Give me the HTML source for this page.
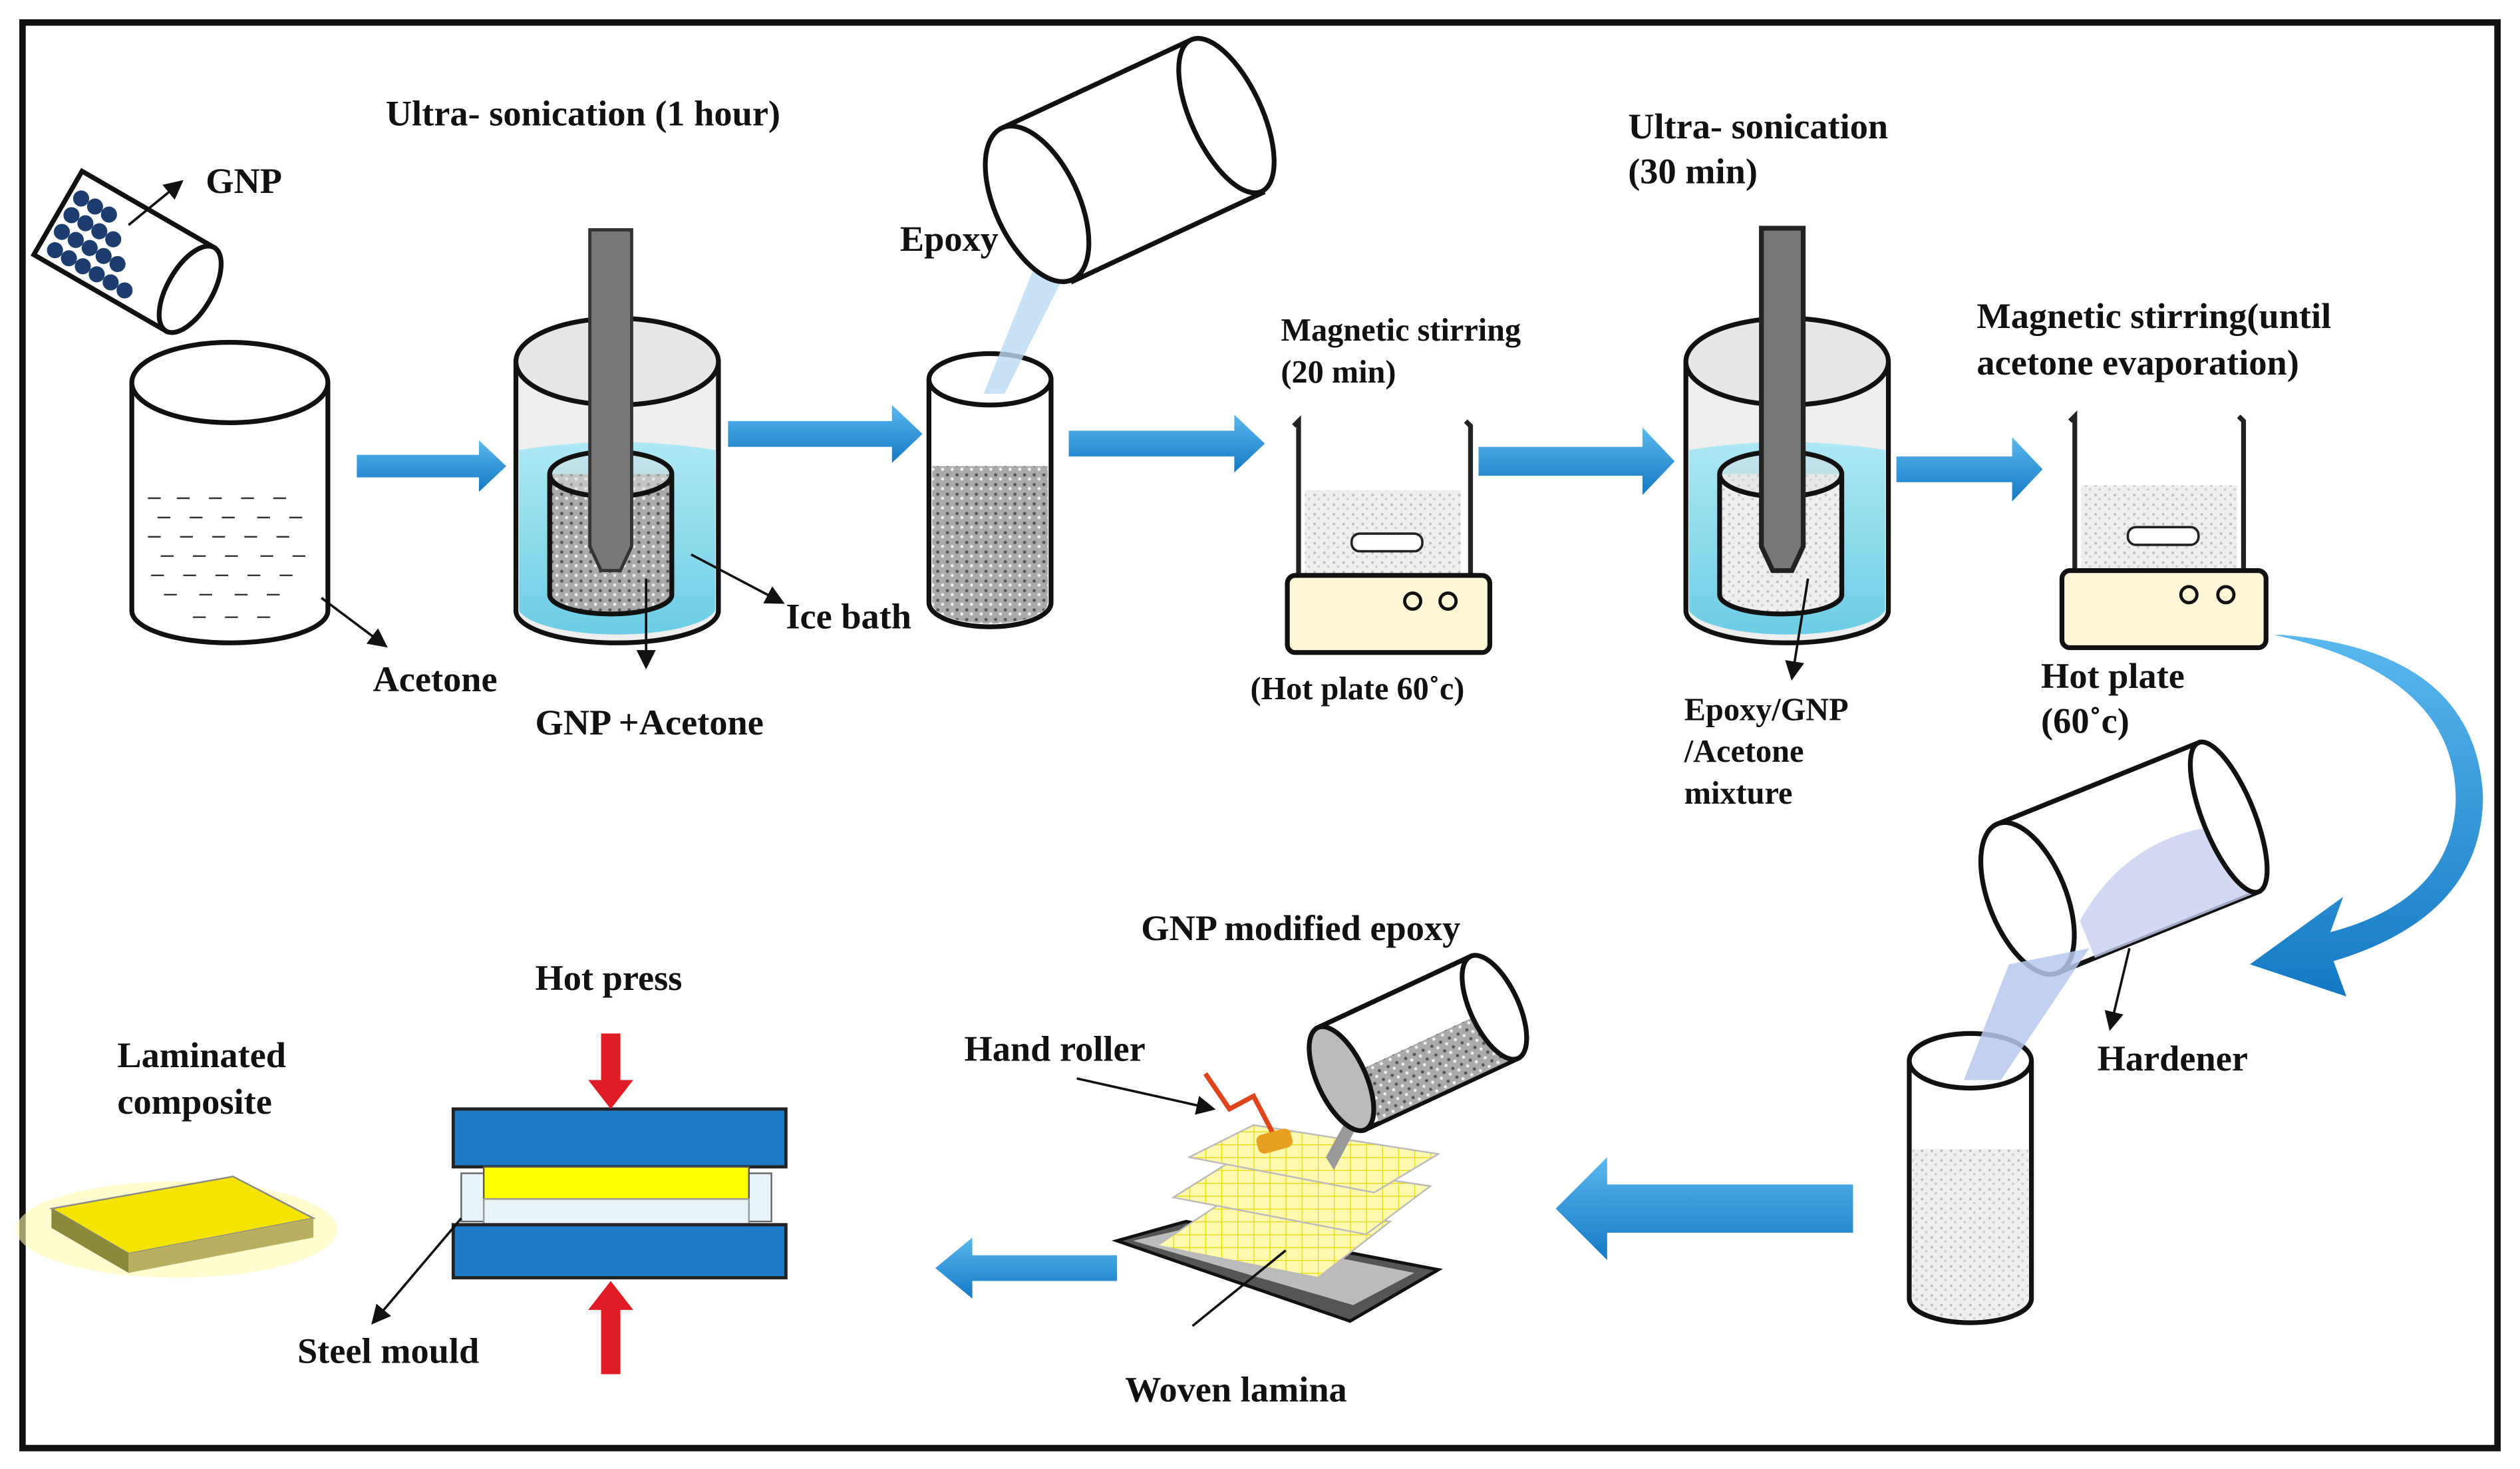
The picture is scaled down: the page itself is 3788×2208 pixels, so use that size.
<!DOCTYPE html>
<html><head><meta charset="utf-8"><style>
html,body{margin:0;padding:0;background:#fff;}
svg{display:block;}
text{font-family:"Liberation Serif",serif;font-weight:bold;fill:#111;font-size:22.5px;}
</style></head><body>
<svg width="3788" height="2208" viewBox="0 0 1568 914" xmlns="http://www.w3.org/2000/svg">
<defs>
<pattern id="sp" width="6" height="6" patternUnits="userSpaceOnUse"><rect width="6" height="6" fill="#aaa"/><circle cx="1.5" cy="1.5" r="1" fill="#555"/><circle cx="4.5" cy="4" r="1" fill="#eee"/></pattern>
<pattern id="wsp" width="6" height="6" patternUnits="userSpaceOnUse"><rect width="6" height="6" fill="#eee"/><circle cx="2" cy="2" r="0.8" fill="#bbb"/><circle cx="4.5" cy="4.5" r="0.8" fill="#ccc"/></pattern>
<pattern id="grid" width="10" height="8" patternUnits="userSpaceOnUse"><rect width="10" height="8" fill="#fff9b0"/><path d="M0 0H10M0 0V8" stroke="#e8d800" stroke-width="1"/></pattern>
<marker id="ah" markerWidth="8" markerHeight="8" refX="7" refY="4" orient="auto"><path d="M0 0L8 4L0 8z" fill="#111"/></marker>
<linearGradient id="bl" x1="0" y1="0" x2="0" y2="1"><stop offset="0" stop-color="#5ab8ee"/><stop offset="1" stop-color="#1479c4"/></linearGradient>
<linearGradient id="wat" x1="0" y1="0" x2="0" y2="1"><stop offset="0" stop-color="#aee8f4"/><stop offset="1" stop-color="#6ccde4"/></linearGradient>
</defs>
<rect x="0" y="0" width="1568" height="914" fill="#fff"/>
<rect x="14" y="14" width="1540" height="887" fill="none" stroke="#111" stroke-width="4"/>

<g transform="rotate(30 75 155)">
<rect x="30" y="125" width="95" height="60" fill="#fff" stroke="#111" stroke-width="3"/>
<ellipse cx="125" cy="155" rx="14" ry="30" fill="#fff" stroke="#111" stroke-width="3"/>
<g fill="#1c3d6e">
<circle cx="38" cy="140" r="5"/><circle cx="48" cy="140" r="5"/><circle cx="58" cy="140" r="5"/><circle cx="38" cy="152" r="5"/><circle cx="48" cy="152" r="5"/><circle cx="58" cy="152" r="5"/><circle cx="68" cy="152" r="5"/><circle cx="38" cy="164" r="5"/><circle cx="48" cy="164" r="5"/><circle cx="58" cy="164" r="5"/><circle cx="68" cy="164" r="5"/><circle cx="78" cy="164" r="5"/><circle cx="40" cy="176" r="5"/><circle cx="50" cy="176" r="5"/><circle cx="60" cy="176" r="5"/><circle cx="70" cy="176" r="5"/><circle cx="80" cy="176" r="5"/><circle cx="90" cy="176" r="5"/>
</g></g>
<line x1="80" y1="140" x2="113" y2="113" stroke="#111" stroke-width="1.5" marker-end="url(#ah)"/>
<text x="128" y="120">GNP</text>

<path d="M82 238V380A61 20 0 0 0 204 380V238" fill="#fff" stroke="#111" stroke-width="3"/>
<ellipse cx="143" cy="238" rx="61" ry="25" fill="#fff" stroke="#111" stroke-width="3"/>
<g stroke="#333" stroke-width="1">
<path d="M92 310h8M110 310h8M130 310h8M150 310h8M170 310h8M98 322h8M118 322h8M138 322h8M160 322h8M180 322h8M92 334h8M112 334h8M132 334h8M152 334h8M172 334h8M100 346h8M120 346h8M140 346h8M162 346h8M182 346h8M94 358h8M114 358h8M134 358h8M154 358h8M174 358h8M102 370h8M124 370h8M146 370h8M166 370h8M120 384h8M140 384h8M160 384h8"/>
</g>
<line x1="200" y1="372" x2="240" y2="402" stroke="#111" stroke-width="1.5" marker-end="url(#ah)"/>
<text x="232" y="430">Acetone</text>

<g fill="url(#bl)">
<path d="M222 283H298V274L315 290L298 306V297H222z"/>
<path d="M453 262H555V252L574 270L555 288V278H453z"/>
<path d="M665 268H768V258L787 276L768 294V284H665z"/>
<path d="M920 278H1022V266L1042 287L1022 308V296H920z"/>
<path d="M1180 284H1252V272L1271 292L1252 312V300H1180z"/>
<path d="M1153 737H1000V720L968 752L1000 784V767H1153z"/>
<path d="M695 781H605V770L582 789L605 808V797H695z"/>
</g>

<path d="M321 225V380A63 20 0 0 0 447 380V225" fill="#eee" stroke="#111" stroke-width="3"/>
<path d="M323 280Q384 270 445 280V380A62 18 0 0 1 323 380z" fill="url(#wat)"/>
<ellipse cx="384" cy="225" rx="63" ry="27" fill="#e6e6e6" stroke="#111" stroke-width="3"/>
<path d="M342 295V370A38 12 0 0 0 418 370V295" fill="url(#sp)" stroke="#111" stroke-width="3"/>
<ellipse cx="380" cy="295" rx="38" ry="14" fill="#ddd" stroke="#111" stroke-width="3" fill-opacity="0.5"/>
<path d="M367 143H393V340L386 355H374L367 340z" fill="#777" stroke="#333" stroke-width="2"/>
<line x1="430" y1="345" x2="487" y2="375" stroke="#111" stroke-width="1.5" marker-end="url(#ah)"/>
<line x1="402" y1="360" x2="402" y2="415" stroke="#111" stroke-width="1.5" marker-end="url(#ah)"/>
<text x="240" y="78">Ultra- sonication (1 hour)</text>
<text x="489" y="391">Ice bath</text>
<text x="333" y="457">GNP +Acetone</text>

<path d="M578 236V375A38 15 0 0 0 654 375V236" fill="#fff" stroke="#111" stroke-width="3"/>
<path d="M580 290H652V375A36 13 0 0 1 580 375z" fill="url(#sp)"/>
<ellipse cx="616" cy="236" rx="38" ry="16" fill="#fff" stroke="#111" stroke-width="3"/>
<path d="M612 245L650 150L668 160L625 245z" fill="#b9dcf2" opacity="0.8"/>
<g transform="rotate(-25 710 100)">
<rect x="640" y="45" width="130" height="105" fill="#fff" stroke="#111" stroke-width="3"/>
<ellipse cx="770" cy="97" rx="22" ry="52" fill="#fff" stroke="#111" stroke-width="3"/>
<ellipse cx="640" cy="97" rx="26" ry="52" fill="#fff" stroke="#111" stroke-width="3"/>
</g>
<text x="560" y="156">Epoxy</text>

<path d="M805 265l3-3V360M912 262l3 3V360" fill="none" stroke="#222" stroke-width="3"/>
<rect x="812" y="305" width="97" height="55" fill="url(#wsp)"/>
<rect x="841" y="332" width="44" height="11" rx="5" fill="#fff" stroke="#222" stroke-width="1.5"/>
<rect x="801" y="358" width="126" height="48" rx="5" fill="#fff6d8" stroke="#111" stroke-width="3"/>
<circle cx="879" cy="374" r="5" fill="none" stroke="#111" stroke-width="2"/><circle cx="901" cy="374" r="5" fill="none" stroke="#111" stroke-width="2"/>
<text x="797" y="212" style="font-size:20px">Magnetic stirring</text>
<text x="797" y="238" style="font-size:20px">(20 min)</text>
<text x="778" y="435" style="font-size:20px">(Hot plate 60˚c)</text>

<path d="M1049 225V380A63 20 0 0 0 1175 380V225" fill="#eee" stroke="#111" stroke-width="3"/>
<path d="M1051 280Q1112 270 1173 280V380A62 18 0 0 1 1051 380z" fill="url(#wat)"/>
<ellipse cx="1112" cy="225" rx="63" ry="27" fill="#e6e6e6" stroke="#111" stroke-width="3"/>
<path d="M1070 295V370A38 12 0 0 0 1146 370V295" fill="url(#wsp)" stroke="#111" stroke-width="3"/>
<ellipse cx="1108" cy="295" rx="38" ry="14" fill="#ddd" stroke="#111" stroke-width="3" fill-opacity="0.5"/>
<path d="M1096 142H1122V340L1115 355H1103L1096 340z" fill="#777" stroke="#222" stroke-width="3"/>
<line x1="1125" y1="360" x2="1115" y2="422" stroke="#111" stroke-width="1.5" marker-end="url(#ah)"/>
<text x="1013" y="86">Ultra- sonication</text>
<text x="1013" y="114">(30 min)</text>
<text x="1048" y="448" style="font-size:20px">Epoxy/GNP</text>
<text x="1048" y="474" style="font-size:20px">/Acetone</text>
<text x="1048" y="500" style="font-size:20px">mixture</text>

<path d="M1288 262l3-3V357M1393 259l3 3V357" fill="none" stroke="#222" stroke-width="3"/>
<rect x="1295" y="302" width="97" height="55" fill="url(#wsp)"/>
<rect x="1324" y="328" width="44" height="11" rx="5" fill="#fff" stroke="#222" stroke-width="1.5"/>
<rect x="1283" y="355" width="127" height="48" rx="5" fill="#fff6d8" stroke="#111" stroke-width="3"/>
<circle cx="1362" cy="370" r="5" fill="none" stroke="#111" stroke-width="2"/><circle cx="1385" cy="370" r="5" fill="none" stroke="#111" stroke-width="2"/>
<text x="1230" y="204">Magnetic stirring(until</text>
<text x="1230" y="233">acetone evaporation)</text>
<text x="1270" y="428">Hot plate</text>
<text x="1270" y="456">(60˚c)</text>

<path d="M1415 395Q1530 420 1528 500Q1525 560 1450 580L1458 558L1400 600L1460 620L1452 598Q1545 570 1545 495Q1540 405 1420 395z" fill="url(#bl)"/>

<path d="M1188 660V808A38 15 0 0 0 1264 808V660" fill="#fff" stroke="#111" stroke-width="3"/>
<path d="M1190 715H1262V808A36 13 0 0 1 1190 808z" fill="url(#wsp)"/>
<ellipse cx="1226" cy="660" rx="38" ry="17" fill="#fff" stroke="#111" stroke-width="3"/>
<g transform="rotate(-22 1320 530)">
<rect x="1255" y="485" width="135" height="100" fill="#fff" stroke="#111" stroke-width="3"/>
<path d="M1280 560Q1330 520 1390 540V585H1280z" fill="#c8d0f2" opacity="0.8"/>
<ellipse cx="1390" cy="535" rx="16" ry="50" fill="#fff" stroke="#111" stroke-width="3"/>
<ellipse cx="1255" cy="535" rx="24" ry="50" fill="#fff" stroke="#111" stroke-width="3"/>
</g>
<path d="M1222 672L1250 600L1300 590L1245 672z" fill="#b7c9f0" opacity="0.85"/>
<line x1="1325" y1="590" x2="1313" y2="640" stroke="#111" stroke-width="1.5" marker-end="url(#ah)"/>
<text x="1305" y="666">Hardener</text>

<path d="M695 772L738 760L895 790L840 822z" fill="#555" stroke="#111" stroke-width="2"/>
<path d="M705 772L740 764L880 792L842 812z" fill="#bbb"/>
<path d="M720 775L765 745L865 760L820 795z" fill="url(#grid)" stroke="#bbb" stroke-width="1"/>
<path d="M730 745L770 720L890 738L850 768z" fill="url(#grid)" stroke="#bbb" stroke-width="1"/>
<path d="M740 720L780 700L895 718L855 742z" fill="url(#grid)" stroke="#bbb" stroke-width="1"/>
<path d="M750 668L765 690L780 682L792 705" fill="none" stroke="#e0441c" stroke-width="3"/>
<rect x="782" y="704" width="22" height="12" rx="4" fill="#e8a020" transform="rotate(-15 793 710)"/>
<path d="M836 700L850 690L830 728L825 720z" fill="#999"/>
<g transform="rotate(-25 880 650)">
<rect x="830" y="615" width="105" height="70" fill="#fff" stroke="#111" stroke-width="3"/>
<rect x="840" y="650" width="90" height="34" fill="url(#sp)"/>
<ellipse cx="935" cy="650" rx="15" ry="35" fill="#fff" stroke="#111" stroke-width="3"/>
<ellipse cx="830" cy="650" rx="15" ry="35" fill="#bbb" stroke="#111" stroke-width="3"/>
</g>
<line x1="670" y1="671" x2="755" y2="690" stroke="#111" stroke-width="1.5" marker-end="url(#ah)"/>
<line x1="742" y1="825" x2="800" y2="778" stroke="#111" stroke-width="1.5"/>
<text x="710" y="585">GNP modified epoxy</text>
<text x="600" y="660">Hand roller</text>
<text x="700" y="872">Woven lamina</text>

<rect x="282" y="690" width="207" height="36" fill="#1e7bc8" stroke="#222" stroke-width="2"/>
<rect x="287" y="730" width="14" height="30" fill="#e8f3fa" stroke="#666"/>
<rect x="466" y="730" width="14" height="30" fill="#e8f3fa" stroke="#666"/>
<rect x="301" y="726" width="165" height="20" fill="#ffff00" stroke="#555"/>
<rect x="301" y="746" width="165" height="16" fill="#e8f3fa" stroke="#999"/>
<rect x="282" y="762" width="207" height="33" fill="#1e7bc8" stroke="#222" stroke-width="2"/>
<path d="M374 643H386V672H394L380 690L366 672H374z" fill="#e01b24"/>
<path d="M374 855H386V815H394L380 797L366 815H374z" fill="#e01b24"/>
<line x1="287" y1="758" x2="232" y2="823" stroke="#111" stroke-width="1.5" marker-end="url(#ah)"/>
<text x="333" y="616">Hot press</text>
<text x="185" y="848">Steel mould</text>

<ellipse cx="110" cy="765" rx="100" ry="30" fill="#fffbb0" opacity="0.6"/>
<path d="M32 752L145 732L195 758L80 780z" fill="#f4e400" stroke="#888"/>
<path d="M32 752L80 780V792L32 764z" fill="#8a8a3a"/>
<path d="M80 780L195 758V770L80 792z" fill="#b8b060"/>
<text x="73" y="664">Laminated</text>
<text x="73" y="693">composite</text>
</svg>
</body></html>
